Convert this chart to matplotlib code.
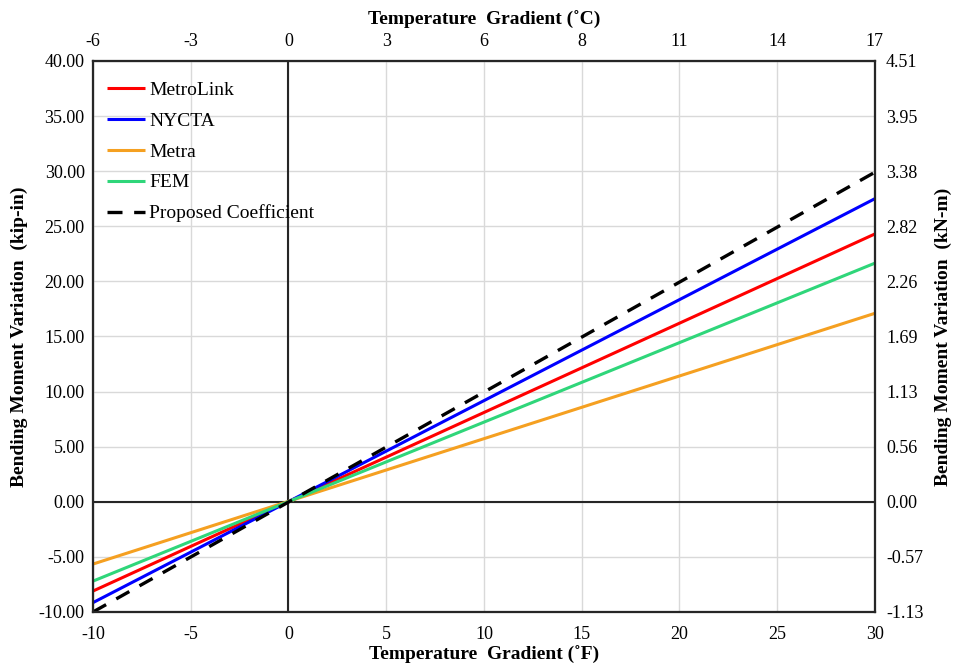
import matplotlib
matplotlib.use("Agg")
import matplotlib.pyplot as plt

plt.rcParams['font.family'] = ['Liberation Serif', 'DejaVu Serif']

# Data: bending moment variation (kip-in) at the ends of the temperature range (F)
x_f = [-10, 30]
metrolink = [-8.1, 24.3]
nycta = [-9.15, 27.5]
metra = [-5.65, 17.1]
fem = [-7.2, 21.65]
proposed = [-10.0, 29.9]

x_ticks = [-10, -5, 0, 5, 10, 15, 20, 25, 30]
x_top_labels = ['-6', '-3', '0', '3', '6', '8', '11', '14', '17']
y_ticks = [-10, -5, 0, 5, 10, 15, 20, 25, 30, 35, 40]
y_right_labels = ['-1.13', '-0.57', '0.00', '0.56', '1.13', '1.69', '2.26',
                  '2.82', '3.38', '3.95', '4.51']

fig = plt.figure(figsize=(9.54, 6.70), dpi=100)
ax = fig.add_axes([0.0975, 0.0866, 0.8195, 0.8224])

ax.set_xlim(-10, 30)
ax.set_ylim(-10, 40)
ax.set_xticks(x_ticks)
ax.set_yticks(y_ticks)
ax.set_xticklabels([str(v) for v in x_ticks])
ax.set_yticklabels([f'{v:.2f}' for v in y_ticks])
ax.grid(True, color='#d9d9d9', lw=1.0)
ax.set_axisbelow(True)
ax.tick_params(axis='x', length=0, labelsize=13, pad=10)
ax.tick_params(axis='y', length=0, labelsize=13, pad=6)

ax.axhline(0, color='#262626', lw=1.5, zorder=1.5)
ax.axvline(0, color='#262626', lw=1.5, zorder=1.5)

ax.plot(x_f, metrolink, color='#ff0000', lw=2.2, label='MetroLink', solid_capstyle='butt')
ax.plot(x_f, nycta, color='#0000ff', lw=2.2, label='NYCTA', solid_capstyle='butt')
ax.plot(x_f, metra, color='#f5a021', lw=2.2, label='Metra', solid_capstyle='butt')
ax.plot(x_f, fem, color='#2fd67a', lw=2.2, label='FEM', solid_capstyle='butt')
ax.plot(x_f, proposed, color='black', lw=2.4, ls=(0, (4.5, 3.5)), label='Proposed Coefficient')

for s in ax.spines.values():
    s.set_color('#262626')
    s.set_linewidth(1.5)

ax.set_xlabel('Temperature  Gradient (˚F)', fontsize=14, fontweight='bold', labelpad=2)
ax.set_ylabel('Bending Moment Variation  (kip-in)', fontsize=14, fontweight='bold', labelpad=8)

leg = ax.legend(loc='upper left', frameon=False, fontsize=14, handlelength=1.95,
                handletextpad=0.2, labelspacing=0.68, borderaxespad=0.5,
                bbox_to_anchor=(-0.004, 0.995))

axt = ax.twiny()
axt.set_xlim(ax.get_xlim())
axt.set_xticks(x_ticks)
axt.set_xticklabels(x_top_labels)
axt.tick_params(length=0, labelsize=13, pad=8)
axt.set_xlabel('Temperature  Gradient (˚C)', fontsize=14, fontweight='bold', labelpad=6)

axr = ax.twinx()
axr.set_ylim(ax.get_ylim())
axr.set_yticks(y_ticks)
axr.set_yticklabels(y_right_labels)
axr.tick_params(length=0, labelsize=13, pad=8)
axr.set_ylabel('Bending Moment Variation  (kN-m)', fontsize=14, fontweight='bold', labelpad=8)

for a in (axt, axr):
    for s in a.spines.values():
        s.set_color('#262626')
        s.set_linewidth(1.5)

fig.savefig('out.png', dpi=100)
